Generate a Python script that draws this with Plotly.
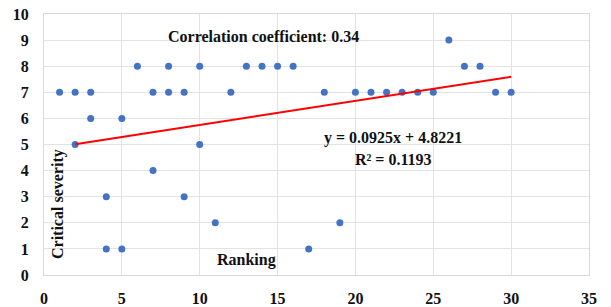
import numpy as np
import plotly.graph_objects as go

ranking = [1, 2, 3, 3, 5, 2, 10, 6, 8, 10, 13, 14, 15, 16, 7, 8, 9, 12,
           18, 20, 21, 22, 23, 24, 25, 26, 27, 28, 29, 30, 7, 4, 9, 11, 4, 5, 17, 19]
severity = [7, 7, 7, 6, 6, 5, 5, 8, 8, 8, 8, 8, 8, 8, 7, 7, 7, 7,
            7, 7, 7, 7, 7, 7, 7, 9, 8, 8, 7, 7, 4, 3, 3, 2, 1, 1, 1, 2]
slope = 0.0925
intercept = 4.8221
r_squared = 0.1193
corr = 0.34
trend_x_start, trend_x_end = 2, 30
x_ticks = [0, 5, 10, 15, 20, 25, 30, 35]
y_ticks = list(range(0, 11))

font_family = "Liberation Serif, Times New Roman, serif"

tx = np.linspace(trend_x_start, trend_x_end, 50)
ty = slope * tx + intercept

fig = go.Figure()
fig.add_trace(go.Scatter(x=ranking, y=severity, mode="markers",
                         marker=dict(color="#4472C4", size=7), showlegend=False))
fig.add_trace(go.Scatter(x=tx, y=ty, mode="lines",
                         line=dict(color="#FF0000", width=2), showlegend=False))

tick_font = dict(family=font_family, size=16, color="#111111", weight="bold")
fig.update_layout(
    width=611, height=307,
    margin=dict(l=44, r=22, t=14, b=32, autoexpand=False),
    paper_bgcolor="white", plot_bgcolor="white",
    font=dict(family=font_family, size=16, color="#111111"),
    xaxis=dict(range=[0, 35], tickvals=x_ticks, showgrid=True, gridcolor="#E3E3E3",
               zeroline=False, showline=True, linecolor="#D9D9D9", mirror=True,
               ticks="outside", ticklen=9, tickcolor="rgba(0,0,0,0)", automargin=False,
               tickfont=tick_font),
    yaxis=dict(range=[0, 10], tickvals=y_ticks, showgrid=True, gridcolor="#E3E3E3",
               zeroline=False, showline=True, linecolor="#D9D9D9", mirror=True,
               ticks="outside", ticklen=11, tickcolor="rgba(0,0,0,0)", automargin=False,
               tickfont=tick_font),
)

ann_font = dict(family=font_family, size=16, color="#111111", weight="bold")
def px(xp, yp):
    return (xp - 44) / 545, (275 - yp) / 261

for text, (xp, yp), angle in [
    (f"Correlation coefficient: {corr}", (263, 37), 0),
    (f"y = {slope}x + {intercept}", (393, 138), 0),
    (f"R² = {r_squared}", (393, 159), 0),
    ("Ranking", (246, 260), 0),
    ("Critical severity", (58, 204), -90),
]:
    x, y = px(xp, yp)
    fig.add_annotation(text=text, x=x, y=y, xref="paper", yref="paper",
                       xanchor="center", yanchor="middle",
                       showarrow=False, font=ann_font, textangle=angle)

fig.write_html("out.html", config={"displayModeBar": False},
               post_script="document.body.style.margin='0';")
